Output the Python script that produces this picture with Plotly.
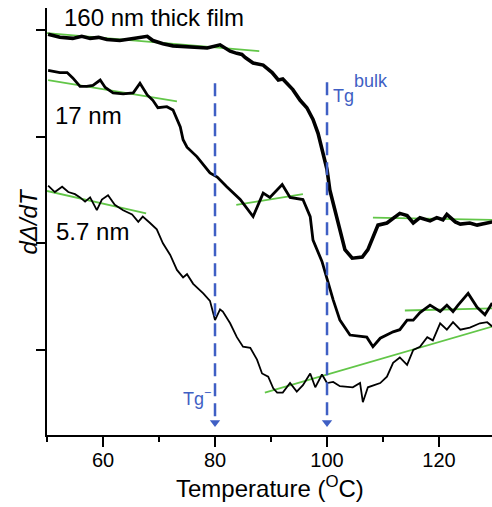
import plotly.graph_objects as go

# ---- data ----
t_160 = [50.2, 52.3, 54.6, 56.2, 57.7, 59.2, 60.7, 63.0, 65.4, 67.9, 68.9, 70.7, 72.5, 75.5,
         78.6, 80.9, 82.7, 83.9, 84.8, 85.4, 86.8, 88.6, 90.2, 91.3, 92.1, 93.9, 95.2, 96.4,
         97.5, 98.4, 99.3, 100.0, 100.5, 102.0, 103.2, 104.5, 106.3, 107.3, 109.1, 110.7,
         113.0, 114.3, 115.4, 116.6, 118.4, 119.6, 120.7, 121.4, 122.9, 123.8, 125.5, 126.8,
         129.5]
y_160 = [2.96, 2.93, 2.92, 2.94, 2.92, 2.93, 2.91, 2.90, 2.92, 2.94, 2.90, 2.87, 2.85, 2.84,
         2.83, 2.86, 2.80, 2.78, 2.77, 2.74, 2.69, 2.67, 2.60, 2.53, 2.54, 2.44, 2.34, 2.27,
         2.16, 2.03, 1.85, 1.69, 1.50, 1.19, 0.94, 0.86, 0.87, 0.94, 1.17, 1.19,
         1.28, 1.26, 1.19, 1.24, 1.21, 1.24, 1.22, 1.27, 1.20, 1.18, 1.19, 1.17,
         1.20]

t_17 = [50.2, 51.1, 52.3, 53.6, 54.6, 55.9, 57.1, 58.2, 59.5, 60.4, 61.8, 63.6, 65.4, 66.6,
        67.9, 68.9, 69.8, 71.4, 72.5, 73.8, 74.3, 75.0, 76.8, 79.1, 80.4, 82.1, 84.5, 86.8,
        88.6, 89.8, 92.0, 93.4, 95.7, 97.0, 97.5, 99.1, 101.1, 102.3, 104.1, 107.1, 108.2,
        109.5, 111.8, 113.0, 114.3, 115.4, 116.6, 118.4, 120.2, 121.4, 122.5, 123.4, 125.2,
        126.8, 128.2, 129.5]
y_17 = [2.62, 2.61, 2.60, 2.60, 2.55, 2.47, 2.47, 2.48, 2.53, 2.46, 2.41, 2.40, 2.41, 2.50,
        2.39, 2.34, 2.27, 2.28, 2.25, 2.09, 1.97, 1.90, 1.81, 1.66, 1.62, 1.53, 1.41, 1.25,
        1.47, 1.43, 1.55, 1.43, 1.41, 1.25, 1.03, 0.83, 0.47, 0.28, 0.14, 0.12, 0.03,
        0.11, 0.17, 0.19, 0.28, 0.28, 0.35, 0.42, 0.36, 0.42, 0.36, 0.42, 0.53,
        0.40, 0.33, 0.44]

t_57 = [50.2, 51.4, 52.7, 53.8, 55.0, 55.9, 56.8, 57.7, 58.9, 59.8, 60.9, 62.1, 63.6, 65.2,
        66.3, 67.1, 68.4, 69.6, 70.7, 72.0, 73.2, 74.3, 75.0, 76.1, 77.9, 79.1, 80.0, 80.9,
        81.4, 82.7, 83.9, 85.0, 86.3, 87.5, 88.4, 89.5, 90.4, 91.1, 92.1, 93.4, 94.6, 95.7,
        97.0, 97.9, 99.1, 100.0, 101.1, 102.3, 104.6, 105.9, 106.4, 107.3, 109.5, 110.7,
        111.8, 113.0, 114.3, 115.4, 116.6, 117.9, 118.9, 120.2, 121.4, 122.5, 123.8, 125.5,
        127.3, 128.6, 129.5]
y_57 = [1.54, 1.48, 1.53, 1.48, 1.46, 1.43, 1.39, 1.43, 1.31, 1.41, 1.45, 1.36, 1.31, 1.27,
        1.20, 1.25, 1.19, 1.13, 1.00, 0.89, 0.75, 0.68, 0.71, 0.62, 0.53, 0.46, 0.28, 0.38,
        0.36, 0.25, 0.12, 0.03, 0.02, -0.09, -0.22, -0.25, -0.36, -0.40, -0.40, -0.31, -0.39,
        -0.33, -0.22, -0.35, -0.23, -0.31, -0.30, -0.34, -0.35, -0.31, -0.49, -0.35, -0.31,
        -0.25, -0.12, -0.07, -0.14, 0.00, 0.03, 0.12, 0.09, 0.25, 0.19, 0.26, 0.19, 0.21,
        0.25, 0.26, 0.22]

# baseline / tangent fits (start and end points)
fit_t = [[50.0, 87.9], [50.2, 73.2], [50.0, 67.7], [83.8, 95.7], [108.2, 129.5],
         [113.9, 129.5], [88.9, 129.5]]
fit_y = [[2.97, 2.80], [2.53, 2.33], [1.49, 1.28], [1.36, 1.46], [1.24, 1.22],
         [0.37, 0.39], [-0.40, 0.22]]

tg_x = [80, 100]          # Tg- and Tg bulk markers
tg_top = [2.50, 2.51]
tg_bottom = -0.63
arrow_y = -0.68

sample_labels = ["160 nm thick film", "17 nm", "5.7 nm"]
label_x = [52.7, 51.1, 51.3]
label_y = [3.12, 2.20, 1.11]

BLUE = "#3F5FC4"
GREEN = "#62C648"
FONT = "Liberation Sans, Arial, sans-serif"

fig = go.Figure()

for tx, ty in zip(fit_t, fit_y):
    fig.add_trace(go.Scatter(x=tx, y=ty, mode="lines",
                             line=dict(color=GREEN, width=1.8), showlegend=False))

fig.add_trace(go.Scatter(x=t_57, y=y_57, mode="lines",
                         line=dict(color="black", width=1.8), showlegend=False))
fig.add_trace(go.Scatter(x=t_17, y=y_17, mode="lines",
                         line=dict(color="black", width=2.8), showlegend=False))
fig.add_trace(go.Scatter(x=t_160, y=y_160, mode="lines",
                         line=dict(color="black", width=3.6), showlegend=False))

for x0, ytop in zip(tg_x, tg_top):
    fig.add_trace(go.Scatter(x=[x0, x0], y=[ytop, tg_bottom], mode="lines",
                             line=dict(color=BLUE, width=2.5, dash="13px,7px"),
                             showlegend=False))
    fig.add_trace(go.Scatter(x=[x0], y=[arrow_y], mode="markers",
                             marker=dict(symbol="triangle-down", size=9, color=BLUE),
                             showlegend=False))

for txt, lx, ly in zip(sample_labels, label_x, label_y):
    fig.add_annotation(x=lx, y=ly, text=txt, showarrow=False, xanchor="left",
                       yanchor="middle", font=dict(family=FONT, size=24, color="black"))

fig.add_annotation(x=100.7, y=2.38, text="Tg", showarrow=False, xanchor="left",
                   yanchor="middle", font=dict(family=FONT, size=18, color=BLUE))
fig.add_annotation(x=104.4, y=2.52, text="bulk", showarrow=False, xanchor="left",
                   yanchor="middle", font=dict(family=FONT, size=18, color=BLUE))
fig.add_annotation(x=74.0, y=-0.45, text="Tg<sup>−</sup>", showarrow=False, xanchor="left",
                   yanchor="middle", font=dict(family=FONT, size=18, color=BLUE))

fig.add_annotation(xref="paper", yref="paper", x=0, y=0.5, xshift=-19,
                   text="<i>dΔ/dT</i>", textangle=-90, showarrow=False,
                   xanchor="center", yanchor="middle",
                   font=dict(family=FONT, size=24, color="black"))
fig.add_annotation(xref="paper", yref="paper", x=0.5, y=0, yshift=-52,
                   text="Temperature (<sup>O</sup>C)", showarrow=False,
                   xanchor="center", yanchor="middle",
                   font=dict(family=FONT, size=24, color="black"))

fig.update_layout(
    width=492, height=507,
    margin=dict(l=47, r=0, t=8, b=72),
    paper_bgcolor="white", plot_bgcolor="white",
    font=dict(family=FONT, color="black"),
    xaxis=dict(range=[50, 129.46], showgrid=False, zeroline=False,
               showline=True, linecolor="black", linewidth=2,
               ticks="outside", tick0=0, dtick=20, ticklen=10, tickwidth=1.5,
               tickcolor="black", tickfont=dict(size=20, family=FONT),
               ticklabelstandoff=-4,
               minor=dict(ticks="outside", dtick=10, tick0=50, ticklen=5,
                          tickwidth=1.5, tickcolor="black")),
    yaxis=dict(range=[-0.797, 3.205], showgrid=False, zeroline=False,
               showline=True, linecolor="black", linewidth=2,
               ticks="outside", tickvals=[0, 1, 2, 3], ticklen=9, tickwidth=1.5,
               tickcolor="black", showticklabels=False),
)

fig.write_html("out.html")
